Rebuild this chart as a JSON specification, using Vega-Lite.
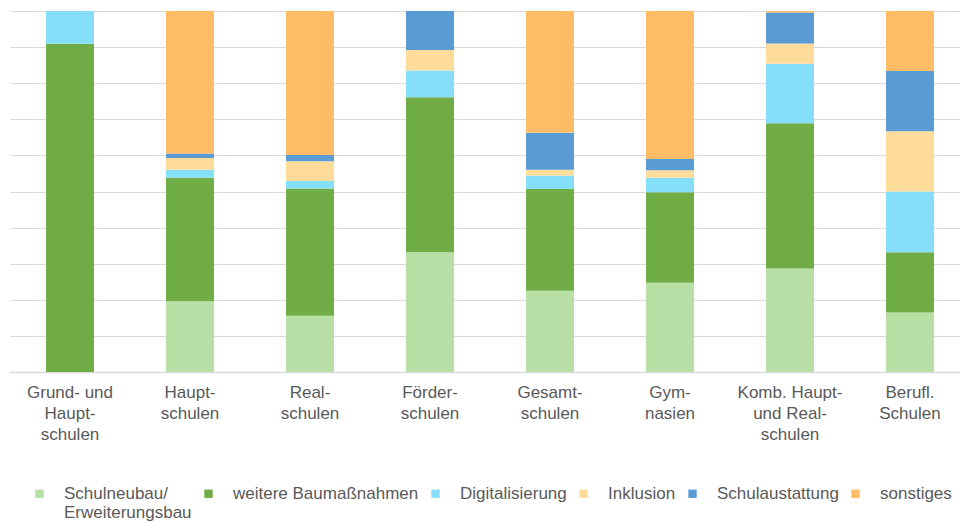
{
  "$schema": "https://vega.github.io/schema/vega-lite/v6.json",
  "width": 960,
  "height": 361,
  "padding": {"left": 10, "top": 11, "right": 0, "bottom": 0},
  "background": "white",
  "config": {
    "view": {"stroke": null},
    "font": "Liberation Sans"
  },
  "datasets": {
    "werte": [
      {"Schulart": "Grund- und|Haupt-|schulen", "Nr": 1, "Kategorie": "Schulneubau/|Erweiterungsbau", "Anteil": 0},
      {"Schulart": "Grund- und|Haupt-|schulen", "Nr": 2, "Kategorie": "weitere Baumaßnahmen", "Anteil": 90.9},
      {"Schulart": "Grund- und|Haupt-|schulen", "Nr": 3, "Kategorie": "Digitalisierung", "Anteil": 9.1},
      {"Schulart": "Grund- und|Haupt-|schulen", "Nr": 4, "Kategorie": "Inklusion", "Anteil": 0},
      {"Schulart": "Grund- und|Haupt-|schulen", "Nr": 5, "Kategorie": "Schulaustattung", "Anteil": 0},
      {"Schulart": "Grund- und|Haupt-|schulen", "Nr": 6, "Kategorie": "sonstiges", "Anteil": 0},
      {"Schulart": "Haupt-|schulen", "Nr": 1, "Kategorie": "Schulneubau/|Erweiterungsbau", "Anteil": 19.6},
      {"Schulart": "Haupt-|schulen", "Nr": 2, "Kategorie": "weitere Baumaßnahmen", "Anteil": 34.2},
      {"Schulart": "Haupt-|schulen", "Nr": 3, "Kategorie": "Digitalisierung", "Anteil": 2.2},
      {"Schulart": "Haupt-|schulen", "Nr": 4, "Kategorie": "Inklusion", "Anteil": 3.3},
      {"Schulart": "Haupt-|schulen", "Nr": 5, "Kategorie": "Schulaustattung", "Anteil": 1.2},
      {"Schulart": "Haupt-|schulen", "Nr": 6, "Kategorie": "sonstiges", "Anteil": 39.5},
      {"Schulart": "Real-|schulen", "Nr": 1, "Kategorie": "Schulneubau/|Erweiterungsbau", "Anteil": 15.6},
      {"Schulart": "Real-|schulen", "Nr": 2, "Kategorie": "weitere Baumaßnahmen", "Anteil": 35.2},
      {"Schulart": "Real-|schulen", "Nr": 3, "Kategorie": "Digitalisierung", "Anteil": 2.1},
      {"Schulart": "Real-|schulen", "Nr": 4, "Kategorie": "Inklusion", "Anteil": 5.5},
      {"Schulart": "Real-|schulen", "Nr": 5, "Kategorie": "Schulaustattung", "Anteil": 1.7},
      {"Schulart": "Real-|schulen", "Nr": 6, "Kategorie": "sonstiges", "Anteil": 39.9},
      {"Schulart": "Förder-|schulen", "Nr": 1, "Kategorie": "Schulneubau/|Erweiterungsbau", "Anteil": 33.2},
      {"Schulart": "Förder-|schulen", "Nr": 2, "Kategorie": "weitere Baumaßnahmen", "Anteil": 42.9},
      {"Schulart": "Förder-|schulen", "Nr": 3, "Kategorie": "Digitalisierung", "Anteil": 7.4},
      {"Schulart": "Förder-|schulen", "Nr": 4, "Kategorie": "Inklusion", "Anteil": 5.7},
      {"Schulart": "Förder-|schulen", "Nr": 5, "Kategorie": "Schulaustattung", "Anteil": 10.8},
      {"Schulart": "Förder-|schulen", "Nr": 6, "Kategorie": "sonstiges", "Anteil": 0},
      {"Schulart": "Gesamt-|schulen", "Nr": 1, "Kategorie": "Schulneubau/|Erweiterungsbau", "Anteil": 22.5},
      {"Schulart": "Gesamt-|schulen", "Nr": 2, "Kategorie": "weitere Baumaßnahmen", "Anteil": 28.2},
      {"Schulart": "Gesamt-|schulen", "Nr": 3, "Kategorie": "Digitalisierung", "Anteil": 3.7},
      {"Schulart": "Gesamt-|schulen", "Nr": 4, "Kategorie": "Inklusion", "Anteil": 1.6},
      {"Schulart": "Gesamt-|schulen", "Nr": 5, "Kategorie": "Schulaustattung", "Anteil": 10.3},
      {"Schulart": "Gesamt-|schulen", "Nr": 6, "Kategorie": "sonstiges", "Anteil": 33.7},
      {"Schulart": "Gym-|nasien", "Nr": 1, "Kategorie": "Schulneubau/|Erweiterungsbau", "Anteil": 24.7},
      {"Schulart": "Gym-|nasien", "Nr": 2, "Kategorie": "weitere Baumaßnahmen", "Anteil": 25.1},
      {"Schulart": "Gym-|nasien", "Nr": 3, "Kategorie": "Digitalisierung", "Anteil": 4.0},
      {"Schulart": "Gym-|nasien", "Nr": 4, "Kategorie": "Inklusion", "Anteil": 2.1},
      {"Schulart": "Gym-|nasien", "Nr": 5, "Kategorie": "Schulaustattung", "Anteil": 3.1},
      {"Schulart": "Gym-|nasien", "Nr": 6, "Kategorie": "sonstiges", "Anteil": 41.0},
      {"Schulart": "Komb. Haupt-|und Real-|schulen", "Nr": 1, "Kategorie": "Schulneubau/|Erweiterungsbau", "Anteil": 28.7},
      {"Schulart": "Komb. Haupt-|und Real-|schulen", "Nr": 2, "Kategorie": "weitere Baumaßnahmen", "Anteil": 40.2},
      {"Schulart": "Komb. Haupt-|und Real-|schulen", "Nr": 3, "Kategorie": "Digitalisierung", "Anteil": 16.5},
      {"Schulart": "Komb. Haupt-|und Real-|schulen", "Nr": 4, "Kategorie": "Inklusion", "Anteil": 5.6},
      {"Schulart": "Komb. Haupt-|und Real-|schulen", "Nr": 5, "Kategorie": "Schulaustattung", "Anteil": 8.6},
      {"Schulart": "Komb. Haupt-|und Real-|schulen", "Nr": 6, "Kategorie": "sonstiges", "Anteil": 0.4},
      {"Schulart": "Berufl.|Schulen", "Nr": 1, "Kategorie": "Schulneubau/|Erweiterungsbau", "Anteil": 16.5},
      {"Schulart": "Berufl.|Schulen", "Nr": 2, "Kategorie": "weitere Baumaßnahmen", "Anteil": 16.7},
      {"Schulart": "Berufl.|Schulen", "Nr": 3, "Kategorie": "Digitalisierung", "Anteil": 16.8},
      {"Schulart": "Berufl.|Schulen", "Nr": 4, "Kategorie": "Inklusion", "Anteil": 16.7},
      {"Schulart": "Berufl.|Schulen", "Nr": 5, "Kategorie": "Schulaustattung", "Anteil": 16.7},
      {"Schulart": "Berufl.|Schulen", "Nr": 6, "Kategorie": "sonstiges", "Anteil": 16.6}
    ]
  },
  "data": {"name": "werte"},
  "mark": {"type": "bar"},
  "encoding": {
    "x": {
      "field": "Schulart",
      "type": "nominal",
      "sort": null,
      "scale": {"paddingInner": 0.6, "paddingOuter": 0.3},
      "axis": {
        "title": null,
        "labelAngle": 0,
        "labelExpr": "split(datum.label, '|')",
        "labelFontSize": 17,
        "labelLineHeight": 21,
        "labelColor": "#595959",
        "labelPadding": 12,
        "ticks": false,
        "domainColor": "#D9D9D9",
        "domainWidth": 1.5,
        "labelLimit": 200
      }
    },
    "y": {
      "field": "Anteil",
      "type": "quantitative",
      "stack": "normalize",
      "scale": {"domain": [0, 1], "nice": false},
      "axis": {
        "title": null,
        "labels": false,
        "ticks": false,
        "domain": false,
        "values": [0, 0.1, 0.2, 0.3, 0.4, 0.5, 0.6, 0.7, 0.8, 0.9, 1],
        "gridColor": "#D9D9D9",
        "gridWidth": 1.2
      }
    },
    "color": {
      "field": "Kategorie",
      "type": "nominal",
      "sort": ["Schulneubau/|Erweiterungsbau", "weitere Baumaßnahmen", "Digitalisierung", "Inklusion", "Schulaustattung", "sonstiges"],
      "scale": {
        "domain": ["Schulneubau/|Erweiterungsbau", "weitere Baumaßnahmen", "Digitalisierung", "Inklusion", "Schulaustattung", "sonstiges"],
        "range": ["#B7DFA6", "#70AD47", "#86DFF9", "#FFDC9A", "#5B9BD5", "#FFBC66"]
      },
      "legend": {
        "title": null,
        "orient": "none",
        "direction": "horizontal",
        "legendX": 21,
        "legendY": 474,
        "symbolType": "square",
        "symbolSize": 70,
        "symbolStrokeWidth": 0,
        "labelFontSize": 17,
        "labelColor": "#595959",
        "labelOffset": 16,
        "labelLineHeight": 18,
        "labelExpr": "indexof(datum.label, '|') >= 0 ? split(datum.label, '|') : [datum.label, '']",
        "columnPadding": 8,
        "labelLimit": 300
      }
    },
    "order": {"field": "Nr", "type": "quantitative", "sort": "ascending"}
  }
}
